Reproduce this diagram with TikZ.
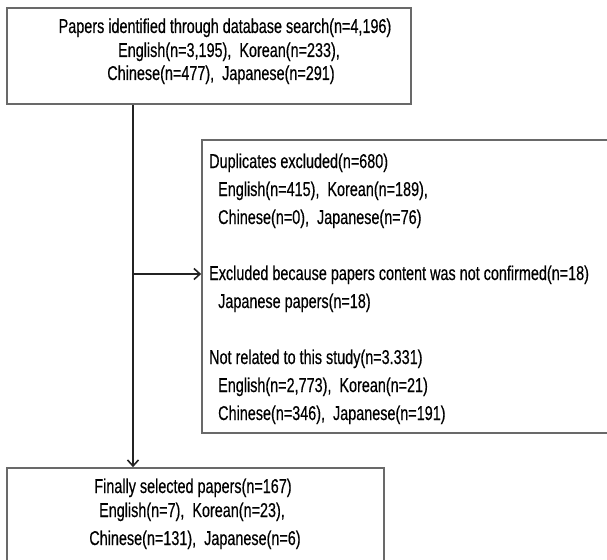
\documentclass[tikz,border=0pt]{standalone}
\usepackage{fontspec}
\setmainfont[FakeStretch=0.72,FakeBold=0.4]{Liberation Sans}
\usetikzlibrary{arrows.meta}
\definecolor{boxline}{RGB}{105,105,105}
\definecolor{conn}{RGB}{35,35,35}
\tikzset{
  boxnode/.style={draw=boxline, line width=1.7pt, rectangle, inner sep=0pt},
  txt/.style={font=\fontsize{20}{24}\selectfont, inner sep=0pt, text=black},
  txtc/.style={txt, anchor=base},
  txtl/.style={txt, anchor=base west},
  conline/.style={draw=conn, line width=1.6pt},
  conarrow/.style={conline, -{Straight Barb[length=6pt,width=11pt,line width=1.6pt]}}
}
\begin{document}
\begin{tikzpicture}[x=1pt,y=-1pt]
\useasboundingbox (0,0) rectangle (607,559);
\clip (0,0) rectangle (607,559);
% boxes
\node[boxnode, minimum width=404pt, minimum height=96pt] (top) at (209,56) {};
\node[boxnode, minimum width=410pt, minimum height=293pt] (mid) at (407,286.5) {};
\node[boxnode, minimum width=377pt, minimum height=107pt] (bot) at (195.5,521.5) {};
% top text
\node[txtc] (t1) at (225,33) {Papers identified through database search(n=4,196)};
\node[txtc] (t2) at (229,57) {English(n=3,195), \ Korean(n=233),};
\node[txtc] (t3) at (221,80) {Chinese(n=477), \ Japanese(n=291)};
% middle text
\node[txtl] (m1) at (209,168) {Duplicates excluded(n=680)};
\node[txtl] (m2) at (218,196) {English(n=415), \ Korean(n=189),};
\node[txtl] (m3) at (218,224) {Chinese(n=0), \ Japanese(n=76)};
\node[txtl] (m4) at (209,280) {Excluded because papers content was not confirmed(n=18)};
\node[txtl] (m5) at (218,308) {Japanese papers(n=18)};
\node[txtl] (m6) at (209,364) {Not related to this study(n=3.331)};
\node[txtl] (m7) at (218,392) {English(n=2,773), \ Korean(n=21)};
\node[txtl] (m8) at (218,420) {Chinese(n=346), \ Japanese(n=191)};
% bottom text
\node[txtc] (b1) at (193,493) {Finally selected papers(n=167)};
\node[txtc] (b2) at (192,517) {English(n=7), \ Korean(n=23),};
\node[txtc] (b3) at (195,545) {Chinese(n=131), \ Japanese(n=6)};
% connectors
\coordinate (j) at (133,274);
\draw[conarrow] (j |- top.south) -- (j |- bot.north);
\draw[conarrow] (j) -- (j -| mid.west);
\end{tikzpicture}
\end{document}
